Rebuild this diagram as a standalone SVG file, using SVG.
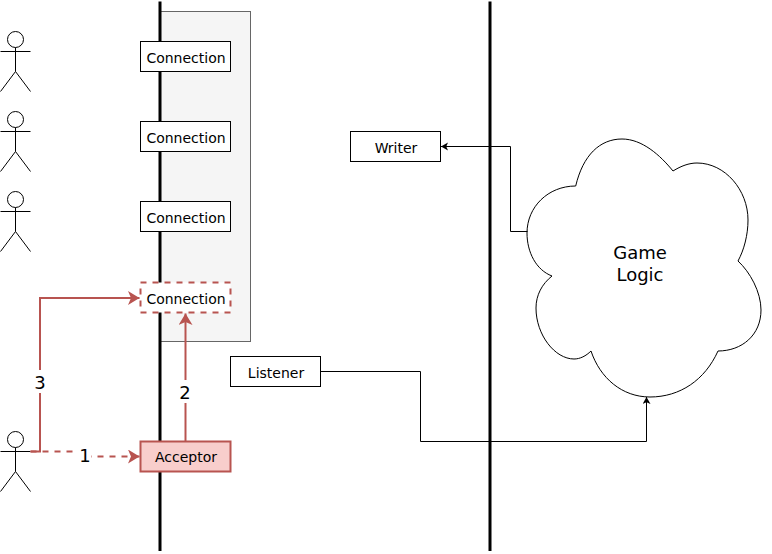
<svg xmlns="http://www.w3.org/2000/svg" width="772" height="554" viewBox="0 0 772 554">
<defs>
<style>
text{font-family:"DejaVu Sans",Verdana,sans-serif;font-size:14px;fill:#000;text-anchor:middle}
.box{fill:#fff;stroke:#000;stroke-width:1}
.wall{fill:none;stroke:#000;stroke-width:3}
.actor{fill:none;stroke:#000;stroke-width:1}
.head{fill:#fff;stroke:#000;stroke-width:1}
.thin{fill:none;stroke:#000;stroke-width:1}
.red{fill:none;stroke:#b85450;stroke-width:2}
.lbl{font-size:18px}
.big{font-size:18px}
</style>
<marker id="ak" markerUnits="userSpaceOnUse" markerWidth="10" markerHeight="10" refX="7" refY="4" orient="auto"><path d="M0 0L7 4L0 8L1.75 4Z" fill="#000"/></marker>
<marker id="ar" markerUnits="userSpaceOnUse" markerWidth="16" markerHeight="16" refX="11.500" refY="7" orient="auto"><path d="M0 0L11.500 7L0 14L3 7Z" fill="#b85450"/></marker>
</defs>
<rect id="conn-panel" x="160.5" y="11.5" width="90" height="330" fill="#f5f5f5" stroke="#666"/>
<g id="walls">
<path class="wall" d="M160 1.500V551"/>
<path class="wall" d="M490 1.500V551"/>
</g>
<g id="actor1"><circle class="head" cx="15.500" cy="39.500" r="8"/><path class="actor" d="M15.500 47.500V71.500M0.500 51.500H30.500M0.500 91.500L15.500 71.500L30.500 91.500"/></g>
<g id="actor2"><circle class="head" cx="15.500" cy="119.500" r="8"/><path class="actor" d="M15.500 127.500V151.500M0.500 131.500H30.500M0.500 171.500L15.500 151.500L30.500 171.500"/></g>
<g id="actor3"><circle class="head" cx="15.500" cy="199.500" r="8"/><path class="actor" d="M15.500 207.500V231.500M0.500 211.500H30.500M0.500 251.500L15.500 231.500L30.500 251.500"/></g>
<g id="actor4"><circle class="head" cx="15.500" cy="439.500" r="8"/><path class="actor" d="M15.500 447.500V471.500M0.500 451.500H30.500M0.500 491.500L15.500 471.500L30.500 491.500"/></g>
<g id="conn1"><rect class="box" x="140.500" y="41.500" width="90" height="30"/><text x="186" y="62.500">Connection</text></g>
<g id="conn2"><rect class="box" x="140.500" y="121.500" width="90" height="30"/><text x="186" y="142.500">Connection</text></g>
<g id="conn3"><rect class="box" x="140.500" y="201.500" width="90" height="30"/><text x="186" y="222.500">Connection</text></g>
<g id="conn4"><rect x="140.500" y="282.500" width="90" height="30" fill="#fff" stroke="#b85450" stroke-width="2" stroke-dasharray="6 6"/><text x="186" y="303.500">Connection</text></g>
<g id="acceptor"><rect x="140.500" y="441.500" width="90" height="30" fill="#f8cecc" stroke="#b85450" stroke-width="2"/><text x="186" y="461.500">Acceptor</text></g>
<g id="writer"><rect class="box" x="350.500" y="131.500" width="90" height="30"/><text x="396" y="152.500">Writer</text></g>
<g id="listener"><rect class="box" x="230.500" y="356.500" width="90" height="30"/><text x="276" y="377.500">Listener</text></g>
<g id="cloud"><path d="M575.700 186C583 155 600 139 622 139C642 139 660 155 673 171C681 166 689 163 697 163C725 163 748 190 748 220C748 235 744 250 738 261C750 272 761 292 761 310C761 335 742 351 718 351C705 380 680 397 650 397C622 397 600 378 591 351C586 356 580 359 574 359C555 359 536 335 536 308C536 295 542 284 552 276C536 270 527 252 527 233C527 207 548 186 575.700 186Z" fill="#fff" stroke="#000"/><text class="big" x="640" y="258.500">Game</text><text class="big" x="640" y="280.500">Logic</text></g>
<g id="connectors">
<path class="thin" d="M527.500 231.500H510.500V146.500H441" marker-end="url(#ak)"/>
<path class="thin" d="M320.500 371.500H420.500V441.500H646.500V397" marker-end="url(#ak)"/>
<path class="red" d="M30.500 451.500H40V298H139.500" marker-end="url(#ar)"/>
<path class="red" stroke-dasharray="6 6" d="M30.500 451.500H85V456.500H139.500" marker-end="url(#ar)"/>
<path class="red" d="M185.500 441V313.500" marker-end="url(#ar)"/>
<rect x="34" y="370" width="12" height="23" fill="#fff"/><text class="lbl" x="40" y="388.700">3</text>
<rect x="78" y="446" width="13" height="20" fill="#fff"/><text class="lbl" x="85" y="461.700">1</text>
<rect x="179" y="380" width="12" height="23" fill="#fff"/><text class="lbl" x="185" y="399">2</text>
</g>
</svg>
